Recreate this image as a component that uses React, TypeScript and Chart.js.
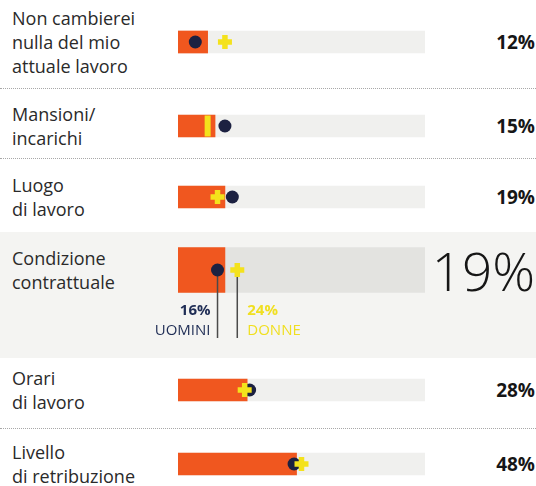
import React, { useEffect, useRef } from 'react';
import { Chart, registerables } from 'chart.js';

Chart.register(...registerables);

// ---------- DATA ----------
const categories: string[][] = [
  ['Non cambierei', 'nulla del mio', 'attuale lavoro'],
  ['Mansioni/', 'incarichi'],
  ['Luogo', 'di lavoro'],
  ['Condizione', 'contrattuale'],
  ['Orari', 'di lavoro'],
  ['Livello', 'di retribuzione'],
];
const totalValues = [12, 15, 19, 19, 28, 48];
const menValues = [7, 19, 22, 16, 29, 47];
const womenValues = [19, 12, 16, 24, 27, 50];
const valueLabels = ['12%', '15%', '19%', '19%', '28%', '48%'];
const menLabel = 'UOMINI';
const womenLabel = 'DONNE';
const highlightIndex = 3;
const scaleMax = 100;

// ---------- LAYOUT / STYLE ----------
const ORANGE = '#f0571f';
const NAVY = '#1c2141';
const YELLOW = '#f4e21c';
const TRACK = '#f0f0ee';
const TRACK_HL = '#e3e3e0';
const BG_HL = '#f4f4f2';
const TEXT = '#2a2a2a';

const rowCenters = [42, 125.5, 197, 270, 390, 464];
const bands = [
  [0, 88],
  [88, 70],
  [158, 74],
  [232, 126],
  [358, 70],
  [428, 58],
];
const separators = [88, 158, 428];
const womenMarker = ['cross', 'line', 'cross', 'cross', 'cross', 'cross'];

const CANVAS_LEFT = 140;
const CANVAS_WIDTH = 290;
const PAD_LEFT = 38;
const PAD_RIGHT = 5;

function RowChart({ i }: { i: number }) {
  const ref = useRef<HTMLCanvasElement>(null);
  const hl = i === highlightIndex;
  const height = hl ? 105 : 32;
  const top = hl ? rowCenters[i] - 30 : rowCenters[i] - 16;
  const padBottom = hl ? 45 : 0;
  const thick = hl ? 45 : 22;

  useEffect(() => {
    const label = categories[i].join(' ');
    const lineStyle = womenMarker[i] === 'line';
    const annotation = {
      id: 'annot' + i,
      afterDatasetDraw(chart: any, args: any) {
        if (!hl || args.index !== 1) return;
        const ctx = chart.ctx;
        const m = chart.getDatasetMeta(2).data[0];
        const w = chart.getDatasetMeta(3).data[0];
        const bottom = chart.chartArea.bottom + 38;
        ctx.save();
        ctx.strokeStyle = '#4a4a4a';
        ctx.lineWidth = 1.5;
        ctx.beginPath();
        ctx.moveTo(m.x, m.y);
        ctx.lineTo(m.x, bottom);
        ctx.moveTo(w.x, w.y);
        ctx.lineTo(w.x, bottom);
        ctx.stroke();
        ctx.restore();
      },
      afterDraw(chart: any) {
        if (!hl) return;
        const ctx = chart.ctx;
        const m = chart.getDatasetMeta(2).data[0];
        const w = chart.getDatasetMeta(3).data[0];
        const b = chart.chartArea.bottom;
        ctx.save();
        ctx.textBaseline = 'middle';
        ctx.textAlign = 'right';
        ctx.fillStyle = '#1f2d55';
        ctx.font = "700 15px 'Open Sans'";
        ctx.fillText(menValues[i] + '%', m.x - 7, b + 11);
        ctx.font = "400 15px 'Open Sans'";
        ctx.fillText(menLabel, m.x - 7, b + 31);
        ctx.textAlign = 'left';
        ctx.fillStyle = '#f0df20';
        ctx.font = "700 15px 'Open Sans'";
        ctx.fillText(womenValues[i] + '%', w.x + 10, b + 11);
        ctx.font = "400 15px 'Open Sans'";
        ctx.fillText(womenLabel, w.x + 10, b + 31);
        ctx.restore();
      },
    };
    const chart = new Chart(ref.current!, {
      type: 'bar',
      data: {
        labels: [label],
        datasets: [
          {
            type: 'bar',
            data: [scaleMax],
            backgroundColor: hl ? TRACK_HL : TRACK,
            barThickness: thick,
            grouped: false,
            order: 4,
          } as any,
          {
            type: 'bar',
            data: [totalValues[i]],
            backgroundColor: ORANGE,
            barThickness: thick,
            grouped: false,
            order: 3,
          } as any,
          {
            type: 'line',
            data: [{ x: menValues[i], y: label }],
            showLine: false,
            pointStyle: 'circle',
            pointRadius: 6.5,
            pointHoverRadius: 6.5,
            pointBackgroundColor: NAVY,
            pointBorderWidth: 0,
            clip: false,
            order: 2,
          } as any,
          {
            type: 'line',
            data: [{ x: womenValues[i], y: label }],
            showLine: false,
            pointStyle: lineStyle ? 'line' : 'cross',
            pointRotation: lineStyle ? 90 : 0,
            pointRadius: lineStyle ? 10.5 : 7,
            pointHoverRadius: lineStyle ? 10.5 : 7,
            pointBorderWidth: lineStyle ? 6 : 5.5,
            pointBorderColor: YELLOW,
            pointBackgroundColor: YELLOW,
            clip: false,
            order: 1,
          } as any,
        ],
      },
      options: {
        indexAxis: 'y',
        animation: false,
        responsive: false,
        devicePixelRatio: 1,
        events: [],
        layout: {
          autoPadding: false,
          padding: { left: PAD_LEFT, right: PAD_RIGHT, top: 0, bottom: padBottom },
        },
        plugins: { legend: { display: false }, tooltip: { enabled: false } },
        scales: {
          x: { type: 'linear', min: 0, max: scaleMax, display: false },
          y: { type: 'category', display: false },
        },
      } as any,
      plugins: [annotation],
    });
    return () => chart.destroy();
  }, [i]);

  return (
    <canvas
      ref={ref}
      width={CANVAS_WIDTH}
      height={height}
      style={{
        position: 'absolute',
        left: CANVAS_LEFT,
        top,
        width: CANVAS_WIDTH,
        height,
      }}
    />
  );
}

export default function App() {
  return (
    <div
      style={{
        position: 'absolute',
        left: 0,
        top: 0,
        width: 536,
        height: 486,
        overflow: 'hidden',
        background: '#ffffff',
        fontFamily: "'Open Sans', sans-serif",
      }}
    >
      <div
        style={{
          position: 'absolute',
          left: 0,
          top: bands[highlightIndex][0],
          width: 536,
          height: bands[highlightIndex][1],
          background: BG_HL,
        }}
      />
      {separators.map((y, k) => (
        <div
          key={'s' + k}
          style={{
            position: 'absolute',
            left: 0,
            top: y,
            width: 536,
            height: 0,
            borderTop: '1px dotted #a8a8a8',
          }}
        />
      ))}
      {categories.map((lines, i) => (
        <div
          key={'l' + i}
          style={{
            position: 'absolute',
            left: 12,
            top: rowCenters[i],
            transform: 'translateY(-50%)',
            fontSize: 18,
            lineHeight: '24px',
            color: TEXT,
            whiteSpace: 'nowrap',
          }}
        >
          {lines.map((t, k) => (
            <div key={k}>{t}</div>
          ))}
        </div>
      ))}
      {valueLabels.map((v, i) => (
        <div
          key={'v' + i}
          style={{
            position: 'absolute',
            right: 1,
            top: rowCenters[i],
            transform: 'translateY(-50%)',
            fontSize: i === highlightIndex ? 53 : 19,
            fontWeight: i === highlightIndex ? 300 : 700,
            lineHeight: 1,
            color: '#161616',
            whiteSpace: 'nowrap',
          }}
        >
          {v}
        </div>
      ))}
      {categories.map((_, i) => (
        <RowChart key={'c' + i} i={i} />
      ))}
    </div>
  );
}
